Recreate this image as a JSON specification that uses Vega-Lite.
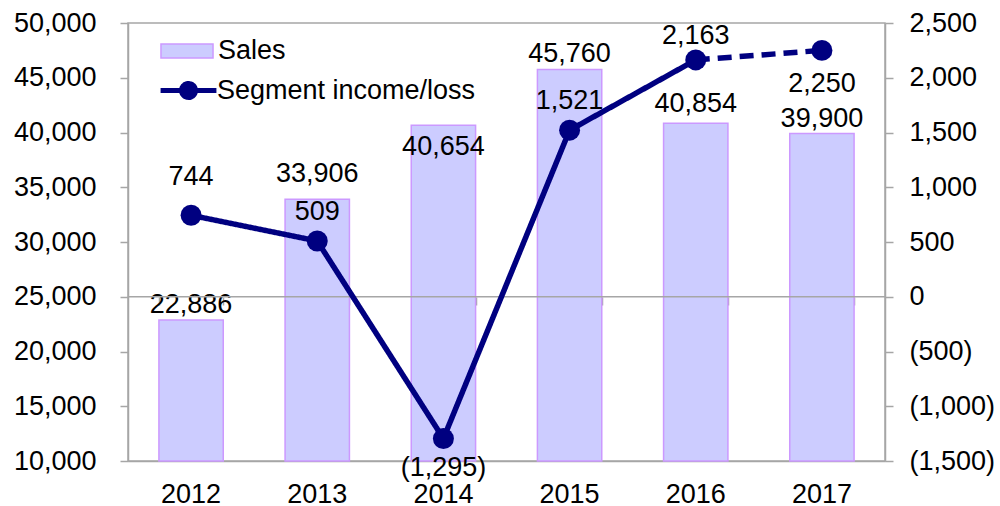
{
  "$schema": "https://vega.github.io/schema/vega-lite/v6.json",
  "width": 757,
  "height": 438,
  "autosize": {"type": "none"},
  "padding": {"left": 128, "top": 23, "right": 115, "bottom": 45},
  "config": {
    "font": "Liberation Sans",
    "view": {"stroke": "#A6A6A6", "strokeWidth": 1.5},
    "text": {"fontSize": 27, "color": "#000000", "font": "Liberation Sans"},
    "axis": {
      "labelFont": "Liberation Sans",
      "labelFontSize": 27,
      "labelColor": "#000000",
      "domainColor": "#A6A6A6",
      "domainWidth": 1.5,
      "tickColor": "#A6A6A6",
      "tickWidth": 1.5,
      "grid": false,
      "title": null
    },
    "legend": {
      "title": null, "padding": 0, "symbolSize": 1444, "labelFontSize": 27, "labelFont": "Liberation Sans",
      "labelColor": "#000000", "labelLimit": 400, "rowPadding": 0
    }
  },
  "datasets": {
    "main": [
      {"year": "2012", "sales": 22886, "income": 744, "incomeLabel": "744"},
      {"year": "2013", "sales": 33906, "income": 509, "incomeLabel": "509"},
      {"year": "2014", "sales": 40654, "income": -1295, "incomeLabel": "(1,295)"},
      {"year": "2015", "sales": 45760, "income": 1521, "incomeLabel": "1,521"},
      {"year": "2016", "sales": 40854, "income": 2163, "incomeLabel": "2,163"},
      {"year": "2017", "sales": 39900, "income": 2250, "incomeLabel": "2,250"}
    ],
    "line": [
      {"year": "2012", "income": 744, "segment": "actual"},
      {"year": "2013", "income": 509, "segment": "actual"},
      {"year": "2014", "income": -1295, "segment": "actual"},
      {"year": "2015", "income": 1521, "segment": "actual"},
      {"year": "2016", "income": 2163, "segment": "actual"},
      {"year": "2016", "income": 2163, "segment": "outlook"},
      {"year": "2017", "income": 2250, "segment": "outlook"}
    ]
  },
  "layer": [
    {
      "data": {"name": "main"},
      "layer": [
        {
          "mark": {"type": "bar", "stroke": "#CC99FF", "strokeWidth": 1.5},
          "encoding": {
            "x": {
              "field": "year", "type": "ordinal",
              "scale": {"paddingInner": 0.49, "paddingOuter": 0.245},
              "axis": {"orient": "bottom", "ticks": false, "labelPadding": 20, "labelAngle": 0}
            },
            "y": {
              "field": "sales", "type": "quantitative",
              "scale": {"domain": [10000, 50000], "zero": false, "nice": false},
              "axis": {"orient": "left", "values": [10000, 15000, 20000, 25000, 30000, 35000, 40000, 45000, 50000], "labelExpr": "format(datum.value, ',')", "tickSize": 8, "labelPadding": 24}
            },
            "y2": {"datum": 10000},
            "fill": {
              "datum": "Sales",
              "scale": {"domain": ["Sales"], "range": ["#CCCCFF"]},
              "legend": {
                "orient": "none", "legendX": 39, "legendY": 8, "labelOffset": 11,
                "symbolType": "M-1.37,-0.37H1.37V0.37H-1.37Z",
                "symbolStrokeColor": "#CC99FF", "symbolStrokeWidth": 1.5, "symbolOpacity": 1
              }
            }
          }
        },
        {
          "transform": [{"filter": {"field": "year", "oneOf": ["2012", "2015", "2017"]}}],
          "mark": {"type": "text", "baseline": "alphabetic", "dy": -7},
          "encoding": {
            "x": {"field": "year", "type": "ordinal"},
            "y": {"field": "sales", "type": "quantitative"},
            "text": {"field": "sales", "type": "quantitative", "format": ","}
          }
        },
        {
          "transform": [{"filter": {"field": "year", "oneOf": ["2016"]}}],
          "mark": {"type": "text", "baseline": "alphabetic", "dy": -11},
          "encoding": {
            "x": {"field": "year", "type": "ordinal"},
            "y": {"field": "sales", "type": "quantitative"},
            "text": {"field": "sales", "type": "quantitative", "format": ","}
          }
        },
        {
          "transform": [{"filter": {"field": "year", "oneOf": ["2013"]}}],
          "mark": {"type": "text", "baseline": "alphabetic", "dy": -17},
          "encoding": {
            "x": {"field": "year", "type": "ordinal"},
            "y": {"field": "sales", "type": "quantitative"},
            "text": {"field": "sales", "type": "quantitative", "format": ","}
          }
        },
        {
          "transform": [{"filter": {"field": "year", "oneOf": ["2014"]}}],
          "mark": {"type": "text", "baseline": "alphabetic", "dy": 30},
          "encoding": {
            "x": {"field": "year", "type": "ordinal"},
            "y": {"field": "sales", "type": "quantitative"},
            "text": {"field": "sales", "type": "quantitative", "format": ","}
          }
        }
      ]
    },
    {
      "layer": [
        {
          "data": {"values": [{}]},
          "mark": {"type": "rule", "color": "#A6A6A6", "strokeWidth": 1.5},
          "encoding": {"y": {"datum": 0, "type": "quantitative"}}
        },
        {
          "data": {"name": "line"},
          "mark": {"type": "line", "strokeWidth": 5.5},
          "encoding": {
            "x": {
              "field": "year", "type": "ordinal",
              "axis": {"orient": "bottom", "offset": -164, "labels": false, "domain": false, "ticks": true, "tickSize": 8, "tickBand": "extent"}
            },
            "y": {
              "field": "income", "type": "quantitative",
              "scale": {"domain": [-1500, 2500], "zero": false, "nice": false},
              "axis": {
                "orient": "right",
                "values": [-1500, -1000, -500, 0, 500, 1000, 1500, 2000, 2500],
                "labelExpr": "datum.value < 0 ? '(' + format(-datum.value, ',') + ')' : format(datum.value, ',')",
                "tickSize": 8, "labelPadding": 16
              }
            },
            "stroke": {
              "datum": "Segment income/loss",
              "scale": {"domain": ["Segment income/loss"], "range": ["#000080"]},
              "legend": {
                "orient": "none", "legendX": 39, "legendY": 46, "labelOffset": 7,
                "symbolType": "M-1.47,0H1.47 M0.368,0A0.368,0.368 0 1 1 -0.368,0A0.368,0.368 0 1 1 0.368,0 M0.16,0A0.16,0.16 0 1 1 -0.16,0A0.16,0.16 0 1 1 0.16,0",
                "symbolStrokeWidth": 5, "symbolFillColor": "#000080", "symbolDash": [1, 0], "symbolOpacity": 1
              }
            },
            "strokeDash": {"field": "segment", "type": "nominal", "scale": {"domain": ["actual", "outlook"], "range": [[1, 0], [14, 8]]}, "legend": null}
          }
        },
        {
          "data": {"name": "main"},
          "mark": {"type": "circle", "size": 440, "opacity": 1, "color": "#000080"},
          "encoding": {
            "x": {"field": "year", "type": "ordinal"},
            "y": {"field": "income", "type": "quantitative"}
          }
        },
        {
          "data": {"name": "main"},
          "transform": [{"filter": {"field": "year", "oneOf": ["2012"]}}],
          "mark": {"type": "text", "baseline": "alphabetic", "dy": -30},
          "encoding": {
            "x": {"field": "year", "type": "ordinal"},
            "y": {"field": "income", "type": "quantitative"},
            "text": {"field": "incomeLabel", "type": "nominal"}
          }
        },
        {
          "data": {"name": "main"},
          "transform": [{"filter": {"field": "year", "oneOf": ["2013", "2015"]}}],
          "mark": {"type": "text", "baseline": "alphabetic", "dy": -21},
          "encoding": {
            "x": {"field": "year", "type": "ordinal"},
            "y": {"field": "income", "type": "quantitative"},
            "text": {"field": "incomeLabel", "type": "nominal"}
          }
        },
        {
          "data": {"name": "main"},
          "transform": [{"filter": {"field": "year", "oneOf": ["2016"]}}],
          "mark": {"type": "text", "baseline": "alphabetic", "dy": -16},
          "encoding": {
            "x": {"field": "year", "type": "ordinal"},
            "y": {"field": "income", "type": "quantitative"},
            "text": {"field": "incomeLabel", "type": "nominal"}
          }
        },
        {
          "data": {"name": "main"},
          "transform": [{"filter": {"field": "year", "oneOf": ["2014"]}}],
          "mark": {"type": "text", "baseline": "alphabetic", "dy": 37},
          "encoding": {
            "x": {"field": "year", "type": "ordinal"},
            "y": {"field": "income", "type": "quantitative"},
            "text": {"field": "incomeLabel", "type": "nominal"}
          }
        },
        {
          "data": {"name": "main"},
          "transform": [{"filter": {"field": "year", "oneOf": ["2017"]}}],
          "mark": {"type": "text", "baseline": "alphabetic", "dy": 42},
          "encoding": {
            "x": {"field": "year", "type": "ordinal"},
            "y": {"field": "income", "type": "quantitative"},
            "text": {"field": "incomeLabel", "type": "nominal"}
          }
        }
      ]
    }
  ],
  "resolve": {"scale": {"y": "independent"}, "axis": {"y": "independent", "x": "independent"}}
}
